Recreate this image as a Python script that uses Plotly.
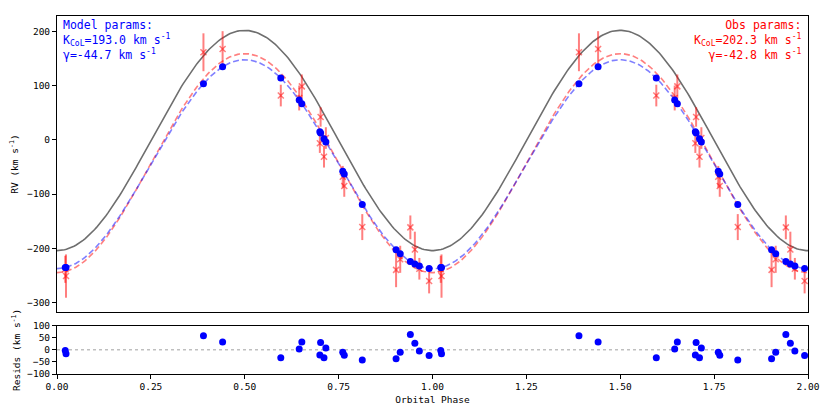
import numpy as np
import plotly.graph_objects as go
from plotly.subplots import make_subplots

phase = [0.022, 0.024, 0.390, 0.441, 0.596, 0.645, 0.652, 0.700, 0.702, 0.711,
         0.716, 0.761, 0.765, 0.813, 0.903, 0.914, 0.941, 0.953, 0.965, 0.991]
rv_obs = [-239.0, -251.5, 162.0, 168.0, 82.0, 77.5, 99.0, -6.0, 42.5, -31.0,
          3.5, -68.0, -85.0, -161.0, -240.0, -220.5, -161.5, -202.5, -238.0, -260.5]
rv_err = [25, 40, 35, 33, 20, 23, 22, 18, 18, 20,
          20, 20, 20, 24, 32, 25, 22, 33, 20, 23]

# fitted parameters
K_model, gamma_model = 193.0, -44.7
K_obs, gamma_obs = 202.3, -42.8
K_true, gamma_true = 203.5, -1.0

yticks_main = [-300, -200, -100, 0, 100, 200]
yticks_res = [-100, -50, 0, 50, 100]
xticks = [0.0, 0.25, 0.5, 0.75, 1.0, 1.25, 1.5, 1.75, 2.0]


def rv_curve(ph, K, gamma):
    return gamma - K * np.cos(2 * np.pi * np.asarray(ph))


def main():
    ph = np.array(phase)
    obs = np.array(rv_obs)
    err = np.array(rv_err)
    mod = rv_curve(ph, K_model, gamma_model)
    resid = obs - mod

    # two cycles
    ph2 = np.concatenate([ph, ph + 1])
    keep = ph2 <= 2.0
    ph2 = ph2[keep]
    obs2 = np.concatenate([obs, obs])[keep]
    err2 = np.concatenate([err, err])[keep]
    mod2 = np.concatenate([mod, mod])[keep]
    res2 = np.concatenate([resid, resid])[keep]

    grid = np.linspace(0, 2, 400)

    fig = make_subplots(rows=2, cols=1, shared_xaxes=False,
                        row_heights=[0.86, 0.14], vertical_spacing=0.04)

    fig.add_trace(go.Scatter(x=grid, y=rv_curve(grid, K_true, gamma_true), mode='lines',
                             line=dict(color='rgb(110,110,110)', width=1.6)), row=1, col=1)
    fig.add_trace(go.Scatter(x=grid, y=rv_curve(grid, K_obs, gamma_obs), mode='lines',
                             line=dict(color='rgba(255,0,0,0.5)', width=1.6, dash='6px,3px')), row=1, col=1)
    fig.add_trace(go.Scatter(x=grid, y=rv_curve(grid, K_model, gamma_model), mode='lines',
                             line=dict(color='rgba(0,0,255,0.5)', width=1.6, dash='6px,3px')), row=1, col=1)

    # observations
    fig.add_trace(go.Scatter(
        x=ph2, y=obs2, mode='markers',
        marker=dict(symbol='x-thin', size=6, line=dict(color='rgba(255,0,0,0.5)', width=1.5)),
        error_y=dict(type='data', array=err2, color='rgba(255,0,0,0.5)', thickness=2, width=0),
    ), row=1, col=1)

    # model at observed phases
    fig.add_trace(go.Scatter(x=ph2, y=mod2, mode='markers',
                             marker=dict(color='blue', size=7)), row=1, col=1)

    # residuals
    fig.add_trace(go.Scatter(x=[0, 2], y=[0, 0], mode='lines',
                             line=dict(color='rgb(160,160,160)', width=1, dash='dot')), row=2, col=1)
    fig.add_trace(go.Scatter(x=ph2, y=res2, mode='markers',
                             marker=dict(color='blue', size=7), cliponaxis=False), row=2, col=1)

    axis_style = dict(showline=True, linecolor='black', linewidth=1, mirror=True,
                      showgrid=False, zeroline=False, ticks='outside', ticklen=4,
                      tickcolor='black', tickfont=dict(size=9.5, color='black'))

    fig.update_xaxes(range=[0, 2], showticklabels=False, ticks='', row=1, col=1,
                     showline=True, linecolor='black', mirror=True, showgrid=False, zeroline=False)
    fig.update_xaxes(range=[0, 2], tickvals=xticks, tickformat='.2f', row=2, col=1,
                     title=dict(text='Orbital Phase', font=dict(size=9.5), standoff=4), **axis_style)
    fig.update_yaxes(range=[-318, 229], tickvals=yticks_main, row=1, col=1,
                     title=dict(text='RV (km s<sup>-1</sup>)', font=dict(size=9.5), standoff=6), **axis_style)
    fig.update_yaxes(range=[-100, 100], tickvals=yticks_res, row=2, col=1,
                     title=dict(text='Resids (km s<sup>-1</sup>)', font=dict(size=9.5), standoff=4), **axis_style)

    fig.add_annotation(xref='x domain', yref='y domain', x=0.005, y=1.0, xanchor='left', yanchor='top',
                       align='left', showarrow=False, font=dict(color='blue', size=11.5),
                       text=f'Model params:<br>K<sub>CoL</sub>={K_model:.1f} km s<sup>-1</sup>'
                            f'<br>γ={gamma_model:.1f} km s<sup>-1</sup>')
    fig.add_annotation(xref='x domain', yref='y domain', x=0.995, y=1.0, xanchor='right', yanchor='top',
                       align='right', showarrow=False, font=dict(color='red', size=11.5),
                       text=f'Obs params:<br>K<sub>CoL</sub>={K_obs:.1f} km s<sup>-1</sup>'
                            f'<br>γ={gamma_obs:.1f} km s<sup>-1</sup>')

    fig.update_layout(
        width=830, height=415,
        margin=dict(l=57, r=20, t=10, b=41),
        showlegend=False,
        plot_bgcolor='white', paper_bgcolor='white',
        font=dict(family='DejaVu Sans Mono', color='black'),
    )
    fig.update_layout(yaxis=dict(domain=[0.173, 1.0]), yaxis2=dict(domain=[0.0, 0.135]))

    # no page margin so the figure sits at the window origin
    fig.write_html("out.html", config={'displayModeBar': False},
                   post_script="document.body.style.margin='0px';")


if __name__ == "__main__":
    main()
